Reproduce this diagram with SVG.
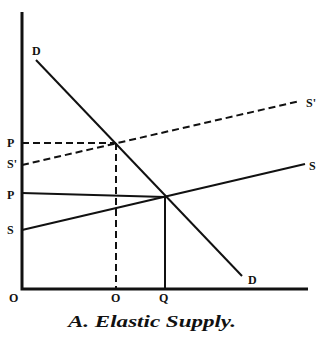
<svg xmlns="http://www.w3.org/2000/svg" width="330" height="339" viewBox="0 0 330 339">
<style>
.ax{stroke:#111;stroke-width:3;fill:none}
.ln{stroke:#111;stroke-width:2;fill:none}
.ds{stroke:#111;stroke-width:2;fill:none;stroke-dasharray:7,4}
text{font-family:"Liberation Serif",serif;font-weight:bold;fill:#111;font-size:12px}
.cap{font-style:italic;font-size:17px}
</style>
<rect width="330" height="339" fill="#fff"/>
<g id="connectors">
<path class="ax" d="M22,12 V289 H308"/>
<path class="ln" d="M36,60 L242,276"/>
<path class="ln" d="M22,230 L305,164"/>
<path class="ln" d="M22,193 L165,197"/>
<path class="ln" d="M165,197 V289"/>
<path class="ds" d="M22,165 L300,101"/>
<path class="ds" d="M22,143 H116"/>
<path class="ds" d="M116,143 V289"/>
</g>
<g id="labels">
<text x="32" y="55">D</text>
<text x="248" y="284">D</text>
<text x="7" y="147">P</text>
<text x="7" y="168">S'</text>
<text x="7" y="199">P</text>
<text x="7" y="234">S</text>
<text x="306" y="107">S'</text>
<text x="309" y="170">S</text>
<text x="9" y="302">O</text>
<text x="111" y="302">O</text>
<text x="159" y="302">Q</text>
<text class="cap" x="68" y="327" textLength="168" lengthAdjust="spacingAndGlyphs">A. Elastic Supply.</text>
</g>
</svg>
